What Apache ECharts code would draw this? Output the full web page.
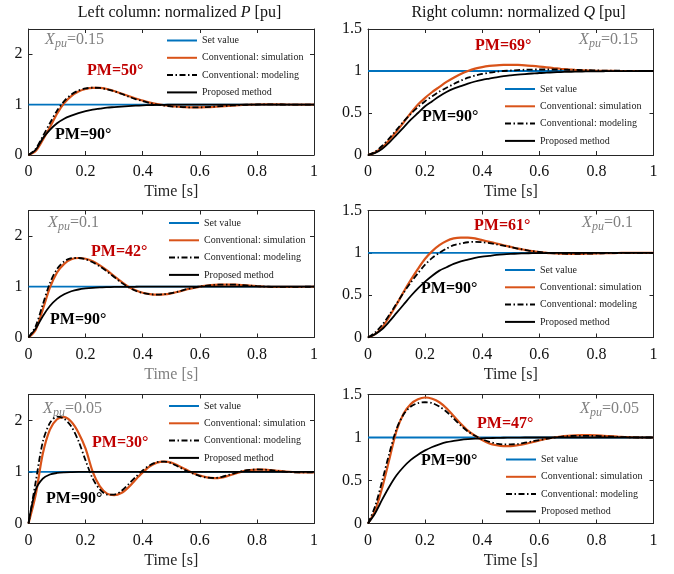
<!DOCTYPE html>
<html><head><meta charset="utf-8">
<script src="https://cdn.jsdelivr.net/npm/echarts@6/dist/echarts.min.js"></script>
<style>html,body{margin:0;padding:0;background:#fff}#c{width:674px;height:574px}</style>
</head><body><div id="c"></div>
<script>
// ---------------- data ----------------
const times = [0,0.025,0.05,0.075,0.1,0.125,0.15,0.175,0.2,0.225,0.25,0.275,0.3,0.325,0.35,0.375,0.4,0.425,0.45,0.475,0.5,0.525,0.55,0.575,0.6,0.625,0.65,0.675,0.7,0.725,0.75,0.775,0.8,0.825,0.85,0.875,0.9,0.925,0.95,0.975,1];
const setTimes = [0, 1];
const setValues = [1, 1];

// Left column P, X=0.15
const simP15 = [0,0.08,0.3,0.55,0.82, 1.03,1.17,1.26,1.31,1.33, 1.33,1.31,1.27,1.22,1.17, 1.12,1.08,1.04,1.01,0.99, 0.97,0.96,0.95,0.945,0.945, 0.948,0.955,0.965,0.975,0.985, 0.993,0.998,1.002,1.004,1.004, 1.003,1.002,1.001,1,1, 1];
const modP15 = [0,0.12,0.37,0.63,0.88, 1.07,1.2,1.28,1.32,1.335, 1.33,1.305,1.265,1.215,1.16, 1.11,1.07,1.03,1.0,0.98, 0.965,0.955,0.948,0.945,0.946, 0.95,0.958,0.968,0.978,0.987, 0.994,0.999,1.002,1.003,1.003, 1.002,1.001,1,1,1, 1];
const propP15 = [0,0.1,0.33,0.5,0.63, 0.72,0.78,0.83,0.87,0.9, 0.92,0.94,0.95,0.96,0.97, 0.978,0.985,0.99,0.993,0.996, 0.998,0.999,1,1,1, 1,1,1,1,1, 1,1,1,1,1, 1,1,1,1,1, 1];
// Right column Q, X=0.15
const simQ15 = [0,0.03,0.09,0.18,0.28, 0.39,0.5,0.6,0.68,0.75, 0.81,0.87,0.92,0.965,1.0, 1.028,1.047,1.06,1.068,1.072, 1.074,1.072,1.068,1.061,1.053, 1.044,1.035,1.027,1.02,1.014, 1.009,1.006,1.003,1.002,1.001, 1,1,1,1,1, 1];
const modQ15 = [0,0.04,0.11,0.2,0.3, 0.4,0.49,0.57,0.64,0.7, 0.755,0.8,0.845,0.885,0.92, 0.945,0.965,0.98,0.992,1.0, 1.006,1.011,1.015,1.017,1.018, 1.018,1.018,1.017,1.015,1.013, 1.011,1.009,1.007,1.005,1.004, 1.003,1.002,1.001,1,1, 1];
const propQ15 = [0,0.025,0.075,0.15,0.24, 0.33,0.42,0.5,0.58,0.64, 0.7,0.75,0.79,0.82,0.85, 0.875,0.895,0.91,0.925,0.938, 0.948,0.957,0.964,0.97,0.976, 0.98,0.984,0.987,0.99,0.992, 0.994,0.995,0.996,0.997,0.998, 0.998,0.999,0.999,1,1, 1];
// Left column P, X=0.1
const simP10 = [0,0.15,0.55,0.98,1.28, 1.45,1.54,1.565,1.55,1.5, 1.42,1.32,1.21,1.1,1.0, 0.93,0.88,0.855,0.845,0.85, 0.87,0.9,0.94,0.97,1.0, 1.02,1.035,1.04,1.042,1.04, 1.032,1.022,1.012,1.004,0.998, 0.995,0.995,0.996,0.998,0.999, 1];
const modP10 = [0,0.22,0.65,1.07,1.35, 1.5,1.56,1.565,1.54,1.48, 1.4,1.3,1.19,1.08,0.99, 0.92,0.875,0.852,0.845,0.852, 0.872,0.905,0.945,0.975,1.003, 1.022,1.036,1.041,1.042,1.039, 1.03,1.02,1.01,1.003,0.998, 0.995,0.995,0.996,0.998,0.999, 1];
const propP10 = [0,0.17,0.42,0.62,0.76, 0.85,0.91,0.945,0.965,0.978, 0.986,0.991,0.995,0.997,0.998, 0.999,1,1,1,1, 1,1,1,1,1, 1,1,1,1,1, 1,1,1,1,1, 1,1,1,1,1, 1];
// Right column Q, X=0.1
const simQ10 = [0,0.04,0.12,0.25,0.39, 0.54,0.68,0.81,0.93,1.02, 1.09,1.14,1.17,1.18,1.18, 1.17,1.15,1.13,1.11,1.09, 1.07,1.05,1.035,1.02,1.01, 1.0,0.995,0.99,0.988,0.987, 0.988,0.99,0.993,0.995,0.997, 0.998,0.999,1,1,1, 1];
const modQ10 = [0,0.06,0.15,0.27,0.4, 0.53,0.65,0.76,0.86,0.94, 1.0,1.05,1.09,1.11,1.125, 1.13,1.125,1.115,1.1,1.085, 1.07,1.05,1.035,1.02,1.01, 1.0,0.995,0.991,0.989,0.988, 0.989,0.991,0.993,0.995,0.997, 0.998,0.999,1,1,1, 1];
const propQ10 = [0,0.04,0.1,0.19,0.29, 0.39,0.49,0.58,0.66,0.73, 0.79,0.83,0.87,0.9,0.92, 0.94,0.955,0.965,0.975,0.982, 0.987,0.991,0.994,0.996,0.997, 0.998,0.999,1,1,1, 1,1,1,1,1, 1,1,1,1,1, 1];
// Left column P, X=0.05
const simP05 = [0,0.55,1.35,1.82,2.02, 2.06,1.97,1.76,1.45,1.0, 0.72,0.58,0.55,0.59,0.7, 0.85,0.99,1.11,1.18,1.2, 1.18,1.12,1.05,0.98,0.93, 0.895,0.88,0.89,0.925,0.97, 1.01,1.035,1.045,1.045,1.035, 1.02,1.008,0.998,0.992,0.99, 0.992];
const modP05 = [0,0.8,1.58,1.95,2.07, 2.03,1.88,1.6,1.22,0.87, 0.66,0.56,0.56,0.63,0.76, 0.9,1.03,1.13,1.19,1.2, 1.17,1.1,1.03,0.97,0.92, 0.89,0.882,0.9,0.94,0.98, 1.02,1.04,1.048,1.044,1.032, 1.016,1.004,0.995,0.99,0.99, 0.993];
const propP05 = [0,0.65,0.87,0.95,0.98, 0.992,0.997,1,1,1, 1,1,1,1,1, 1,1,1,1,1, 1,1,1,1,1, 1,1,1,1,1, 1,1,1,1,1, 1,1,1,1,1, 1];
// Right column Q, X=0.05
const simQ05 = [0,0.15,0.42,0.75,1.08, 1.28,1.39,1.445,1.465,1.45, 1.41,1.34,1.25,1.16,1.08, 1.02,0.97,0.93,0.91,0.9, 0.9,0.91,0.925,0.945,0.965, 0.985,1.0,1.012,1.02,1.025, 1.027,1.027,1.025,1.02,1.015, 1.01,1.006,1.003,1.001,1, 1];
const modQ05 = [0,0.2,0.5,0.82,1.1, 1.27,1.36,1.4,1.41,1.4, 1.36,1.3,1.22,1.14,1.07, 1.02,0.98,0.95,0.93,0.92, 0.92,0.925,0.94,0.955,0.97, 0.985,0.998,1.008,1.015,1.02, 1.02,1.02,1.018,1.015,1.01, 1.007,1.004,1.002,1,1, 1];
const propQ05 = [0,0.12,0.28,0.43,0.56, 0.66,0.74,0.8,0.85,0.89, 0.92,0.945,0.96,0.972,0.98, 0.986,0.99,0.993,0.995,0.997, 0.998,0.999,1,1,1, 1,1,1,1,1, 1,1,1,1,1, 1,1,1,1,1, 1];

const seriesNames = ['Set value', 'Conventional: simulation', 'Conventional: modeling', 'Proposed method'];
const xpuValues = ['0.15', '0.15', '0.1', '0.1', '0.05', '0.05'];
const pmValues = ['50°', '69°', '42°', '61°', '30°', '47°'];
const xTickLabels = ['0', '0.2', '0.4', '0.6', '0.8', '1'];
const pTickLabels = ['0', '1', '2'];
const qTickLabels = ['0', '0.5', '1', '1.5'];

// ---------------- layout / style ----------------
const SERIF = '"Liberation Serif", "Times New Roman", serif';
const AX = '#262626';
const panels = [
  {sim: simP15, mod: modP15, prop: propP15, kind: 'P'},
  {sim: simQ15, mod: modQ15, prop: propQ15, kind: 'Q'},
  {sim: simP10, mod: modP10, prop: propP10, kind: 'P'},
  {sim: simQ10, mod: modQ10, prop: propQ10, kind: 'Q'},
  {sim: simP05, mod: modP05, prop: propP05, kind: 'P'},
  {sim: simQ05, mod: modQ05, prop: propQ05, kind: 'Q'}
];
const boxes = [
  {left: 28.5, top: 29, width: 285.5, height: 126},
  {left: 368, top: 29, width: 285.5, height: 126},
  {left: 28.5, top: 210.5, width: 285.5, height: 127},
  {left: 368, top: 210.5, width: 285.5, height: 127},
  {left: 28.5, top: 394.5, width: 285.5, height: 129},
  {left: 368, top: 394.5, width: 285.5, height: 129}
];
const legendPos = [[166, 35.5], [504, 84], [168, 218], [504, 265], [168, 401], [505, 454.5]];
const pmPos = [[87, 71], [475, 46], [91, 252], [474, 226], [92, 443], [477, 424]];
const pm90Pos = [[55, 135], [422, 117], [50, 319.5], [421, 289], [46, 498.5], [421, 461]];
const xpuPos = [[45, 40], [579, 40], [48, 223], [582, 222.5], [43, 409], [580, 408.5]];
const nameColors = [AX, AX, '#808080', AX, AX, AX];
const colors = ['#0072BD', '#D95319', '#000000', '#000000'];

const grids = [], xAxes = [], yAxes = [], series = [], legends = [], graphics = [];
const pairs = arr => arr.map((v, k) => [times[k], v]);
const axisLine = {show: true, onZero: false, lineStyle: {color: AX, width: 1}};
const tick = {show: true, inside: true, length: 4, lineStyle: {color: AX, width: 1}};

panels.forEach((p, i) => {
  grids.push(Object.assign({show: false, containLabel: false, outerBoundsMode: 'none'}, boxes[i]));
  const isP = p.kind === 'P';
  xAxes[i] = {type: 'value', gridIndex: i, min: 0, max: 1, interval: 0.2, position: 'bottom',
    axisLine, axisTick: tick, splitLine: {show: false},
    axisLabel: {margin: 9, fontFamily: SERIF, fontSize: 16, color: '#111',
      formatter: v => xTickLabels[Math.round(v / 0.2)]},
    name: 'Time [s]', nameLocation: 'middle', nameGap: 29,
    nameTextStyle: {fontFamily: SERIF, fontSize: 16, color: nameColors[i]}};
  xAxes[6 + i] = {type: 'value', gridIndex: i, min: 0, max: 1, interval: 0.2, position: 'top',
    axisLine, axisTick: tick, axisLabel: {show: false}, splitLine: {show: false}};
  yAxes[i] = {type: 'value', gridIndex: i, min: 0, max: isP ? 2.5 : 1.5, interval: isP ? 1 : 0.5, position: 'left',
    axisLine, axisTick: tick, splitLine: {show: false},
    axisLabel: {margin: 6, fontFamily: SERIF, fontSize: 16, color: '#111', showMaxLabel: !isP,
      formatter: v => isP ? (pTickLabels[Math.round(v)] || '') : qTickLabels[Math.round(v / 0.5)]}};
  yAxes[6 + i] = {type: 'value', gridIndex: i, min: 0, max: isP ? 2.5 : 1.5, interval: isP ? 1 : 0.5, position: 'right',
    axisLine, axisTick: tick, axisLabel: {show: false}, splitLine: {show: false}};

  const common = {type: 'line', xAxisIndex: i, yAxisIndex: i, symbol: 'none', showSymbol: false,
    smooth: 0.3, animation: false, silent: true};
  series.push(Object.assign({}, common, {name: seriesNames[0], smooth: false,
    data: setTimes.map((t, k) => [t, setValues[k]]), itemStyle: {color: colors[0]},
    lineStyle: {color: colors[0], width: 1.8}, z: 2}));
  series.push(Object.assign({}, common, {name: seriesNames[1], data: pairs(p.sim), itemStyle: {color: colors[1]},
    lineStyle: {color: colors[1], width: 2.2}, z: 3}));
  series.push(Object.assign({}, common, {name: seriesNames[2], data: pairs(p.mod), itemStyle: {color: colors[2]},
    lineStyle: {color: colors[2], width: 1.8, type: [6, 2.5, 1.5, 2.5]}, z: 4}));
  series.push(Object.assign({}, common, {name: seriesNames[3], data: pairs(p.prop), itemStyle: {color: colors[3]},
    lineStyle: {color: colors[3], width: 1.8}, z: 5}));

  legends.push({data: seriesNames.slice(), orient: 'vertical', left: legendPos[i][0], top: legendPos[i][1],
    itemWidth: 30, itemHeight: 10, itemGap: 7.3, padding: 0, selectedMode: false,
    itemStyle: {opacity: 0},
    textStyle: {fontFamily: SERIF, fontSize: 10, color: '#222', lineHeight: 10}});

  // annotations
  graphics.push({type: 'text', x: pmPos[i][0], y: pmPos[i][1], silent: true,
    style: {text: 'PM=' + pmValues[i], fontFamily: SERIF, fontSize: 16, fontWeight: 'bold', fill: '#C00000', align: 'left', verticalAlign: 'middle'}});
  graphics.push({type: 'text', x: pm90Pos[i][0], y: pm90Pos[i][1], silent: true,
    style: {text: 'PM=90°', fontFamily: SERIF, fontSize: 16, fontWeight: 'bold', fill: '#000', align: 'left', verticalAlign: 'middle'}});
  const [xx, yy] = xpuPos[i];
  graphics.push({type: 'text', x: xx, y: yy, silent: true,
    style: {text: 'X', fontFamily: SERIF, fontSize: 16, fontStyle: 'italic', fill: '#808080', align: 'left', verticalAlign: 'middle'}});
  graphics.push({type: 'text', x: xx + 10, y: yy + 4, silent: true,
    style: {text: 'pu', fontFamily: SERIF, fontSize: 12, fontStyle: 'italic', fill: '#808080', align: 'left', verticalAlign: 'middle'}});
  graphics.push({type: 'text', x: xx + 22, y: yy, silent: true,
    style: {text: '=' + xpuValues[i], fontFamily: SERIF, fontSize: 16, fill: '#808080', align: 'left', verticalAlign: 'middle'}});
});

graphics.push({type: 'text', x: 179.5, y: 13, silent: true,
  style: {text: 'Left column: normalized {i|P} [pu]', fontFamily: SERIF, fontSize: 16, fill: '#111', align: 'center', verticalAlign: 'middle',
    rich: {i: {fontFamily: SERIF, fontSize: 16, fontStyle: 'italic', fill: '#111'}}}});
graphics.push({type: 'text', x: 518.5, y: 13, silent: true,
  style: {text: 'Right column: normalized {i|Q} [pu]', fontFamily: SERIF, fontSize: 16, fill: '#111', align: 'center', verticalAlign: 'middle',
    rich: {i: {fontFamily: SERIF, fontSize: 16, fontStyle: 'italic', fill: '#111'}}}});

const chart = echarts.init(document.getElementById('c'), null, {renderer: 'canvas'});
chart.setOption({
  backgroundColor: '#fff',
  animation: false,
  grid: grids, xAxis: xAxes, yAxis: yAxes, series, legend: legends, graphic: graphics
});
</script></body></html>
